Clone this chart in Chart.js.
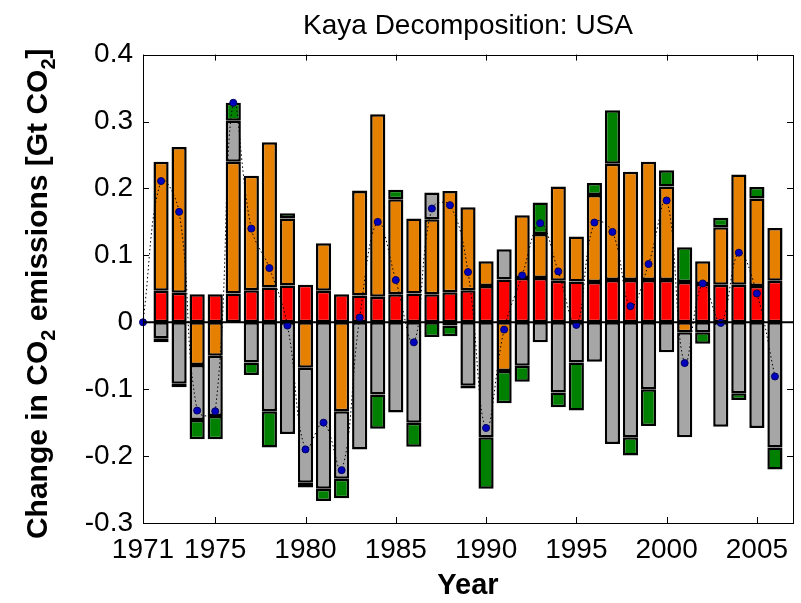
<!DOCTYPE html>
<html>
<head>
<meta charset="utf-8">
<script src="https://cdn.jsdelivr.net/npm/chart.js@4.4.1/dist/chart.umd.min.js"></script>
<style>
  html, body { margin: 0; padding: 0; background: #ffffff; }
  #wrap { width: 801px; height: 603px; }
</style>
</head>
<body>
<div id="wrap"><canvas id="kaya" width="801" height="603"></canvas></div>
<script>
// years with a decomposition bar
const barYears = [1972, 1973, 1974, 1975, 1976, 1977, 1978, 1979, 1980, 1981, 1982, 1983,
  1984, 1985, 1986, 1987, 1988, 1989, 1990, 1991, 1992, 1993, 1994, 1995, 1996, 1997,
  1998, 1999, 2000, 2001, 2002, 2003, 2004, 2005, 2006];

// Kaya factors, change in Gt CO2 per year
const population = [0.047, 0.044, 0.042, 0.042, 0.043, 0.048, 0.052, 0.055, 0.056, 0.047,
  0.042, 0.040, 0.038, 0.042, 0.043, 0.042, 0.045, 0.048, 0.054, 0.064, 0.066, 0.066,
  0.062, 0.061, 0.060, 0.063, 0.063, 0.063, 0.063, 0.060, 0.057, 0.056, 0.056, 0.054, 0.062];
const gdpPerCapita = [0.193, 0.218, -0.064, -0.050, 0.197, 0.171, 0.217, 0.100, -0.068, 0.071,
  -0.133, 0.156, 0.273, 0.142, 0.112, 0.112, 0.151, 0.124, 0.037, -0.073, 0.094, 0.066,
  0.141, 0.067, 0.130, 0.174, 0.162, 0.177, 0.140, -0.015, 0.034, 0.086, 0.165, 0.131, 0.079];
const energyIntensity = [-0.024, -0.092, -0.082, -0.090, 0.061, -0.060, -0.133, -0.167, -0.172,
  -0.249, -0.101, -0.190, -0.108, -0.135, -0.150, 0.040, -0.005, -0.095, -0.172, 0.045,
  -0.065, -0.030, -0.105, -0.060, -0.059, -0.182, -0.172, -0.100, -0.045, -0.157, -0.015,
  -0.156, -0.106, -0.158, -0.187];
const carbonIntensity = [-0.006, -0.005, -0.029, -0.035, 0.027, -0.019, -0.054, 0.008, -0.007,
  -0.018, -0.029, 0.001, -0.051, 0.014, -0.036, -0.022, -0.016, -0.004, -0.077, -0.048,
  -0.024, 0.047, -0.022, -0.072, 0.018, 0.080, -0.027, -0.055, 0.024, 0.052, -0.017, 0.014,
  -0.010, 0.017, -0.033];

// net change (blue dots), starting at 1971
const netYears = [1971].concat(barYears);
const netChange = [0, 0.211, 0.165, -0.132, -0.133, 0.328, 0.140, 0.081, -0.005, -0.190, -0.150,
  -0.221, 0.007, 0.150, 0.063, -0.030, 0.170, 0.175, 0.075, -0.158, -0.011, 0.070, 0.148,
  0.076, -0.004, 0.149, 0.135, 0.024, 0.087, 0.182, -0.061, 0.058, -0.001, 0.104, 0.043, -0.081];

const xTickYears = [1971, 1975, 1980, 1985, 1990, 1995, 2000, 2005];

const FONT = "'Liberation Sans', Arial, Helvetica, sans-serif";

const toPoints = (xs, ys) => xs.map((x, i) => ({ x: x, y: ys[i] }));

function barSet(label, values, color) {
  return {
    type: 'bar',
    label: label,
    data: toPoints(barYears, values),
    backgroundColor: color,
    borderColor: '#000000',
    borderWidth: 2.5,
    borderSkipped: false,
    categoryPercentage: 1,
    barPercentage: 0.84,
    order: 1,
  };
}

// frame, inner tick marks, zero line and the y title with subscripts
const framePlugin = {
  id: 'matlabFrame',
  afterDatasetsDraw(chart) {
    const { ctx, chartArea, scales } = chart;
    const y0 = scales.y.getPixelForValue(0);
    ctx.save();
    ctx.strokeStyle = '#000000';
    ctx.lineWidth = 2;
    ctx.beginPath();
    ctx.moveTo(chartArea.left, y0);
    ctx.lineTo(chartArea.right, y0);
    ctx.stroke();
    ctx.restore();
  },
  afterDraw(chart) {
    const { ctx, chartArea, scales } = chart;
    const { left, right, top, bottom } = chartArea;
    ctx.save();
    ctx.strokeStyle = '#000000';
    ctx.lineWidth = 1;
    ctx.strokeRect(Math.round(left) + 0.5, Math.round(top) + 0.5,
      Math.round(right - left), Math.round(bottom - top));

    ctx.beginPath();
    xTickYears.forEach((v) => {
      const px = Math.round(scales.x.getPixelForValue(v)) + 0.5;
      ctx.moveTo(px, top);
      ctx.lineTo(px, top + 6);
      ctx.moveTo(px, bottom);
      ctx.lineTo(px, bottom - 6);
    });
    scales.y.ticks.forEach((t) => {
      const py = Math.round(scales.y.getPixelForValue(t.value)) + 0.5;
      ctx.moveTo(left, py);
      ctx.lineTo(left + 6, py);
      ctx.moveTo(right, py);
      ctx.lineTo(right - 6, py);
    });
    ctx.stroke();

    // rotated y title
    const parts = [
      ['Change in CO', false],
      ['2', true],
      [' emissions [Gt CO', false],
      ['2', true],
      [']', false],
    ];
    const mainFont = 'bold 30px ' + FONT;
    const subFont = 'bold 20px ' + FONT;
    let total = 0;
    parts.forEach(([txt, sub]) => {
      ctx.font = sub ? subFont : mainFont;
      total += ctx.measureText(txt).width;
    });
    ctx.translate(47, (top + bottom) / 2 + 5);
    ctx.rotate(-Math.PI / 2);
    ctx.fillStyle = '#000000';
    ctx.textBaseline = 'alphabetic';
    ctx.textAlign = 'left';
    let cx = -total / 2;
    parts.forEach(([txt, sub]) => {
      ctx.font = sub ? subFont : mainFont;
      ctx.fillText(txt, cx, sub ? 8 : 0);
      cx += ctx.measureText(txt).width;
    });
    ctx.restore();
  },
};

new Chart(document.getElementById('kaya'), {
  data: {
    datasets: [
      {
        type: 'line',
        label: 'Net change',
        data: toPoints(netYears, netChange),
        borderColor: '#000000',
        borderWidth: 1,
        borderDash: [1.5, 2.5],
        tension: 0.4,
        pointRadius: 3.5,
        pointBackgroundColor: '#0000c0',
        pointBorderColor: '#000060',
        pointBorderWidth: 1,
        clip: false,
        order: 0,
      },
      barSet('Population', population, '#ff0000'),
      barSet('GDP per capita', gdpPerCapita, '#e68000'),
      barSet('Energy intensity', energyIntensity, '#a6a6a6'),
      barSet('Carbon intensity', carbonIntensity, '#008000'),
    ],
  },
  plugins: [framePlugin],
  options: {
    responsive: false,
    animation: false,
    events: [],
    layout: { padding: { left: 0, right: 8, top: 0, bottom: 0 } },
    plugins: {
      legend: { display: false },
      tooltip: { enabled: false },
      title: {
        display: true,
        text: 'Kaya Decomposition: USA',
        color: '#000000',
        fullSize: false,
        font: { family: FONT, size: 28, weight: 'normal' },
        padding: { top: 9, bottom: 12 },
      },
    },
    scales: {
      x: {
        type: 'linear',
        min: 1971,
        max: 2007,
        offset: false,
        stacked: true,
        grid: { display: false, drawTicks: false, offset: false },
        border: { display: false },
        afterBuildTicks: (scale) => {
          scale.ticks = xTickYears.map((v) => ({ value: v }));
        },
        afterFit: (scale) => {
          scale.height = 80;
        },
        ticks: {
          color: '#000000',
          padding: 10,
          maxRotation: 0,
          autoSkip: false,
          font: { family: FONT, size: 28 },
          callback: (v) => String(v),
        },
        title: {
          display: true,
          text: 'Year',
          color: '#000000',
          padding: { top: 0, bottom: 0 },
          font: { family: FONT, size: 29, weight: 'bold' },
        },
      },
      y: {
        min: -0.3,
        max: 0.4,
        stacked: true,
        grid: { display: false, drawTicks: false },
        border: { display: false },
        afterFit: (scale) => {
          scale.width = 143;
        },
        ticks: {
          stepSize: 0.1,
          color: '#000000',
          padding: 10,
          font: { family: FONT, size: 28 },
          callback: (v) => String(Math.round(v * 10) / 10),
        },
      },
    },
  },
});
</script>
</body>
</html>
